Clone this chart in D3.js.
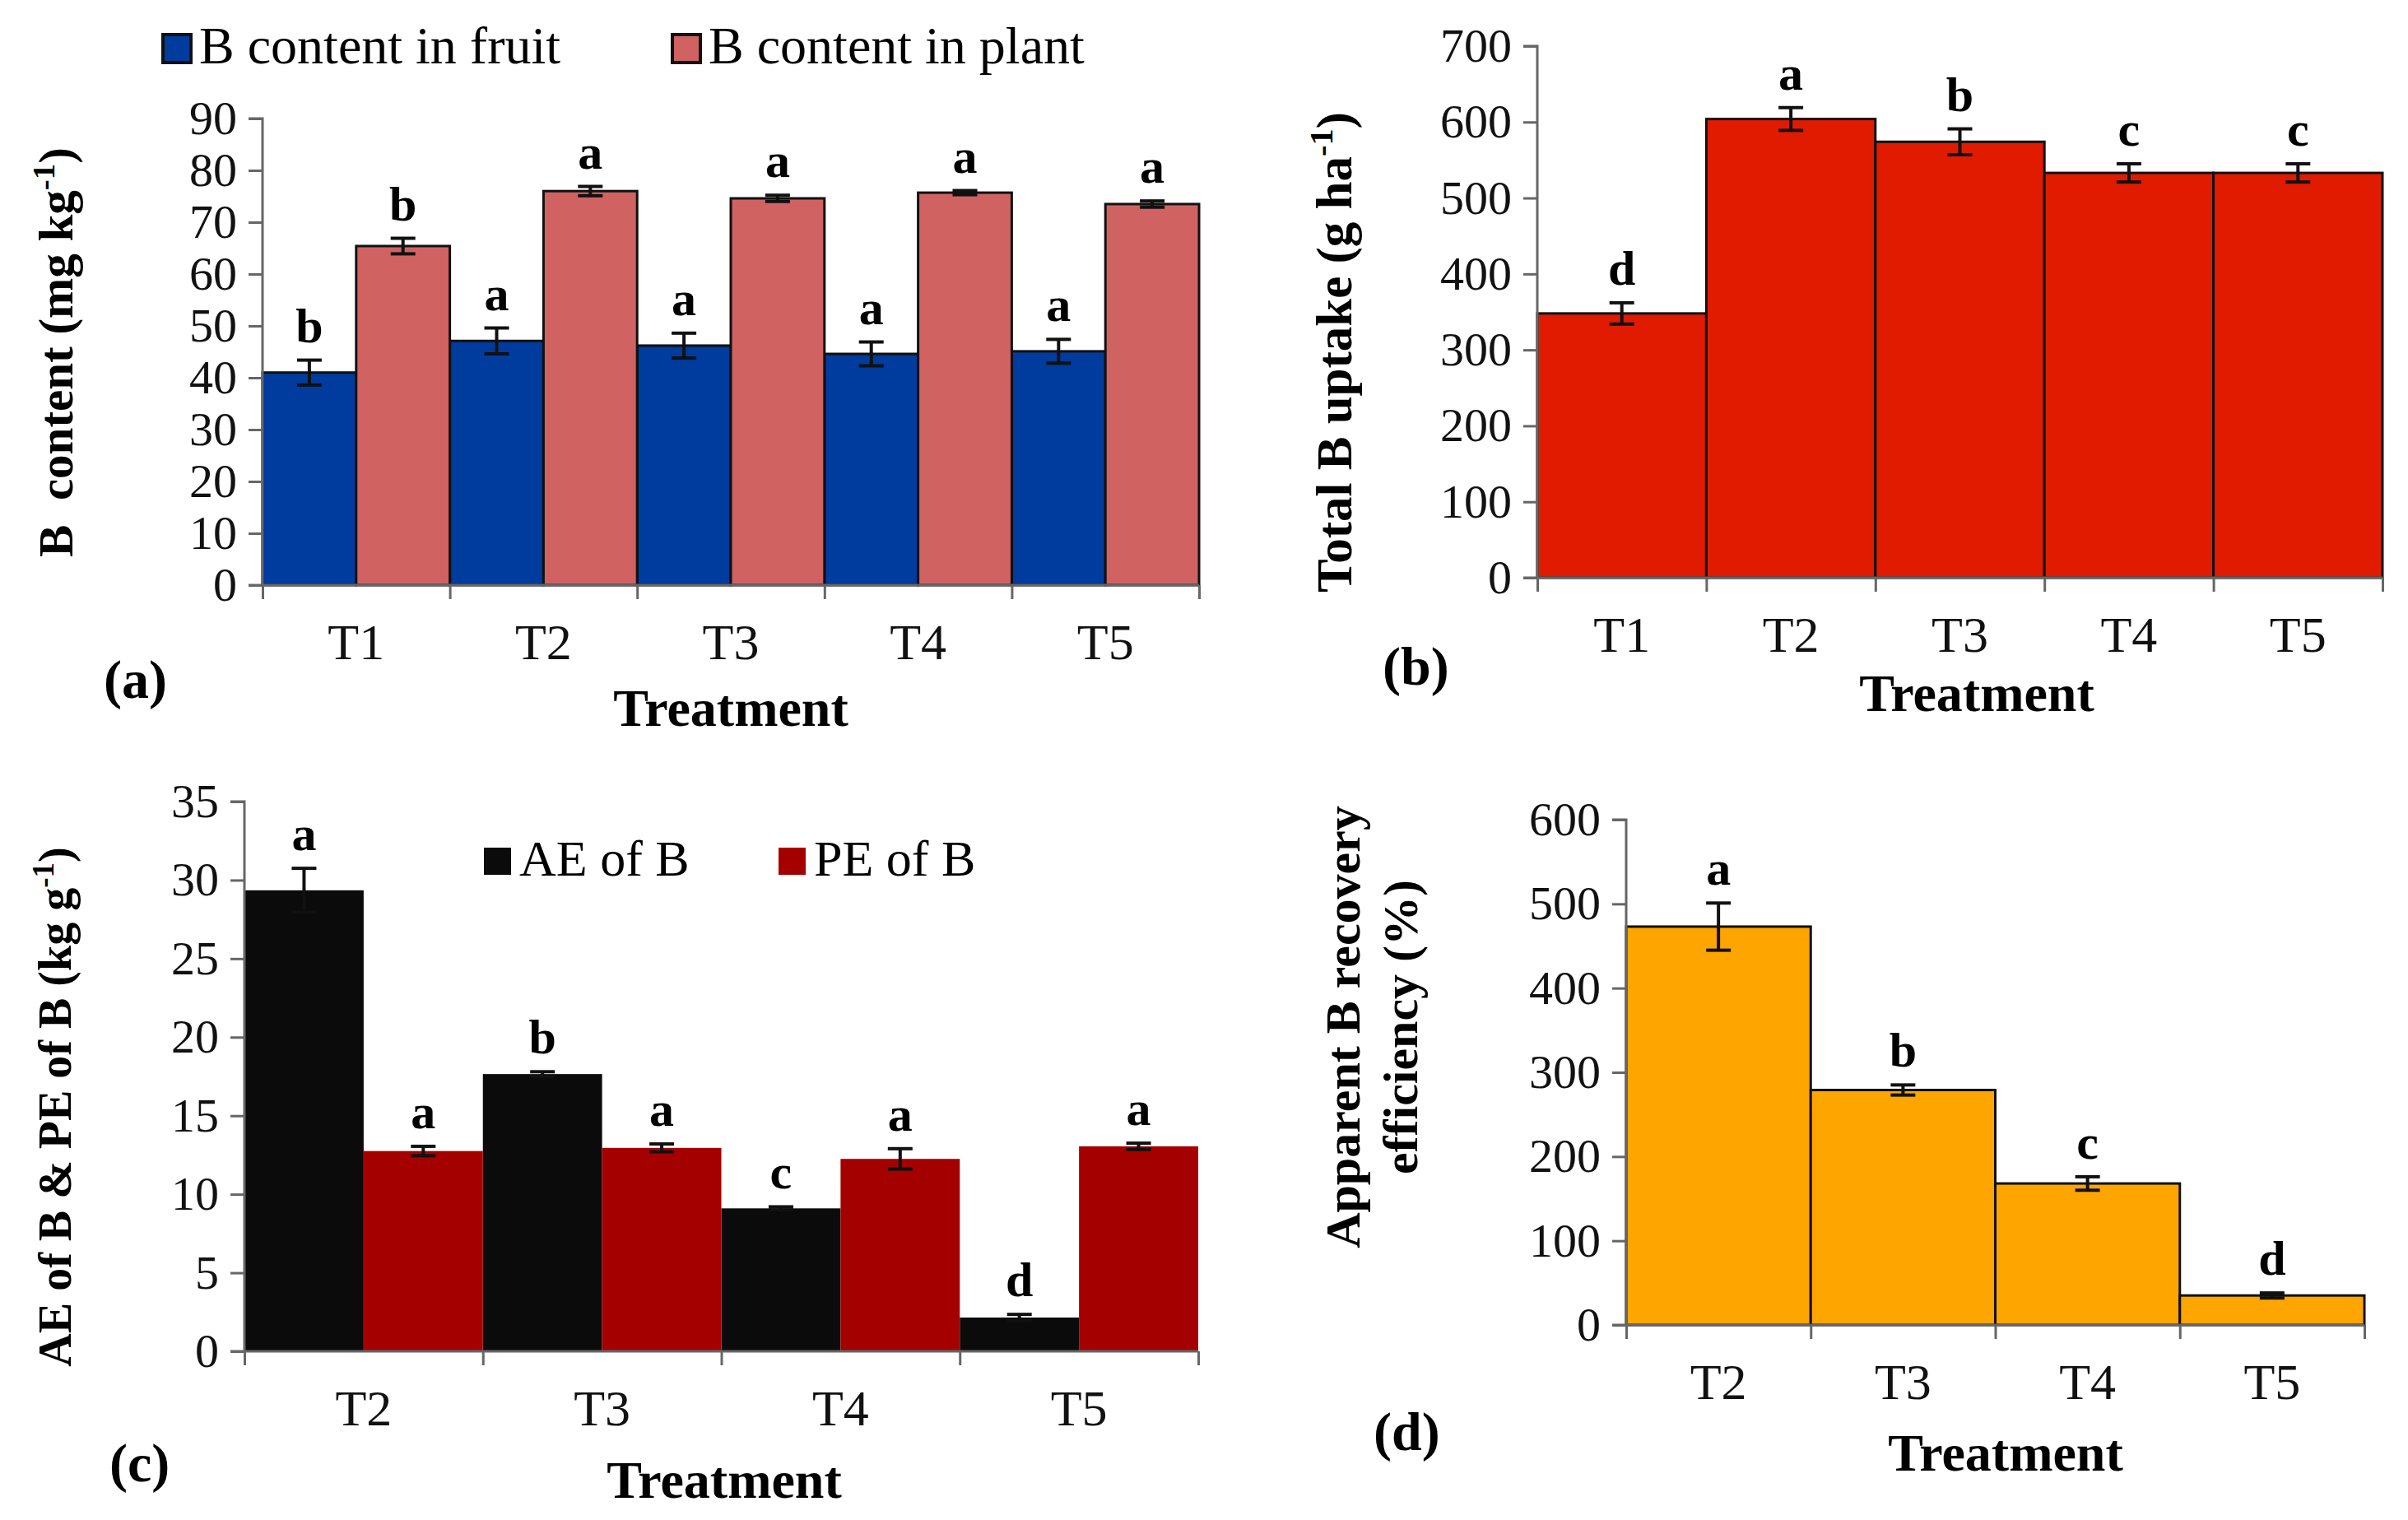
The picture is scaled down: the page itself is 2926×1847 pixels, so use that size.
<!DOCTYPE html>
<html><head><meta charset="utf-8">
<script src="https://cdn.jsdelivr.net/npm/d3@7"></script>
<style>body{margin:0;background:#fff}svg{display:block}svg text{font-family:"Liberation Serif","Times New Roman",serif}</style>
</head><body>
<script>
// ---------- data ----------
const catsAB = ["T1","T2","T3","T4","T5"];
const fruit = [41.0, 47.1, 46.2, 44.6, 45.1];
const fruitErr = [2.4, 2.5, 2.4, 2.3, 2.3];
const fruitLetters = ["b","a","a","a","a"];
const plant = [65.4, 76.0, 74.6, 75.7, 73.5];
const plantErr = [1.5, 0.9, 0.6, 0.4, 0.6];
const plantLetters = ["b","a","a","a","a"];
const ticksA = [0,10,20,30,40,50,60,70,80,90];

const uptake = [348, 604, 574, 533, 533];
const uptakeErr = [14, 15, 17, 12, 12];
const uptakeLetters = ["d","a","b","c","c"];
const ticksB = [0,100,200,300,400,500,600,700];

const catsCD = ["T2","T3","T4","T5"];
const ae = [29.35, 17.65, 9.1, 2.15];
const aeErr = [1.4, 0.15, 0.1, 0.2];
const aeLetters = ["a","b","c","d"];
const pe = [12.75, 12.95, 12.25, 13.05];
const peErr = [0.3, 0.25, 0.65, 0.2];
const peLetters = ["a","a","a","a"];
const ticksC = [0,5,10,15,20,25,30,35];

const recovery = [473, 279, 168, 35];
const recoveryErr = [28, 6, 8, 3];
const recoveryLetters = ["a","b","c","d"];
const ticksD = [0,100,200,300,400,500,600];

// ---------- setup ----------
const W = 2926, H = 1847;
const FONT = "Liberation Serif";
const svg = d3.select("body").append("svg").attr("width", W).attr("height", H)
  .attr("font-family", FONT);

function panel(cfg) {
  const g = svg.append("g").attr("font-family", FONT);
  const y = d3.scaleLinear().domain([cfg.ticks[0], cfg.ticks[cfg.ticks.length-1]]).range([cfg.y0, cfg.y1]);
  const x = d3.scaleBand().domain(cfg.cats).range([cfg.x0, cfg.x1]).padding(0);
  const xb = d3.scaleLinear().domain([0, cfg.cats.length]).range([cfg.x0, cfg.x1]);
  const sub = d3.scaleBand().domain(d3.range(cfg.series.length)).range([0, x.bandwidth()]).padding(0);

  // bars
  cfg.series.forEach((s, si) => {
    g.selectAll(null).data(s.values).enter().append("rect")
      .attr("x", (d, i) => x(cfg.cats[i]) + sub(si))
      .attr("y", d => y(d))
      .attr("width", sub.bandwidth())
      .attr("height", d => y(0) - y(d))
      .attr("fill", s.color)
      .attr("stroke", cfg.stroke ? "#111" : "none")
      .attr("stroke-width", cfg.stroke ? 3 : 0);
  });
  // error bars + letters
  cfg.series.forEach((s, si) => {
    s.values.forEach((v, i) => {
      const cx = x(cfg.cats[i]) + sub(si) + sub.bandwidth() / 2;
      const top = y(v + s.err[i]), bot = y(v - s.err[i]);
      const cap = 15;
      g.append("line").attr("x1", cx).attr("x2", cx).attr("y1", top).attr("y2", bot)
        .attr("stroke", "#111").attr("stroke-width", 4);
      [top, bot].forEach(yy => g.append("line").attr("x1", cx - cap).attr("x2", cx + cap)
        .attr("y1", yy).attr("y2", yy).attr("stroke", "#111").attr("stroke-width", 4));
      g.append("text").attr("x", cx).attr("y", top - 22).attr("text-anchor", "middle")
        .attr("font-weight", "bold").attr("font-size", 60).attr("fill", "#000").text(s.letters[i]);
    });
  });

  // y axis
  const ya = g.append("g").attr("transform", `translate(${cfg.x0},0)`)
    .call(d3.axisLeft(y).tickValues(cfg.ticks).tickSize(17).tickPadding(14).tickFormat(d3.format("d")));
  ya.attr("font-family", FONT).attr("font-size", 58);
  ya.select(".domain").attr("stroke", "#666").attr("stroke-width", 3).attr("d", `M-17,${y(cfg.ticks[cfg.ticks.length-1])}H0V${y(0)}`);
  ya.selectAll(".tick line").attr("stroke", "#666").attr("stroke-width", 3);
  ya.selectAll(".tick text").attr("fill", "#111");

  // x axis (boundary ticks)
  const xa = g.append("g").attr("transform", `translate(0,${cfg.y0})`)
    .call(d3.axisBottom(xb).tickValues(d3.range(cfg.cats.length + 1)).tickSize(17).tickFormat(""));
  xa.select(".domain").attr("stroke", "#666").attr("stroke-width", 3).attr("d", `M${cfg.x0 - 17},0H${cfg.x1}`);
  xa.selectAll(".tick line").attr("stroke", "#666").attr("stroke-width", 3);
  // category labels
  const xl = g.append("g").attr("transform", `translate(0,${cfg.y0})`)
    .call(d3.axisBottom(x).tickSize(0).tickPadding(cfg.labelPad));
  xl.attr("font-family", FONT).attr("font-size", 62);
  xl.select(".domain").remove();
  xl.selectAll(".tick text").attr("fill", "#111");

  // panel letter + axis title
  g.append("text").attr("x", cfg.tagX).attr("y", cfg.tagY).attr("font-weight", "bold")
    .attr("font-size", 66).text(cfg.tag);
  g.append("text").attr("x", cfg.titleX).attr("y", cfg.titleY).attr("text-anchor", "middle")
    .attr("font-weight", "bold").attr("font-size", 64).text("Treatment");

  // y title
  cfg.yTitle.forEach(line => {
    const fs = line.fs || 60;
    const t = g.append("text").attr("transform", `translate(${line.x},${line.y}) rotate(-90)`)
      .attr("text-anchor", "middle").attr("font-weight", "bold").attr("font-size", fs)
      .style("white-space", "pre");
    line.parts.forEach(p => {
      if (p.sup) t.append("tspan").attr("dy", -0.37 * fs).attr("font-size", fs * 0.66).text(p.t);
      else t.append("tspan").attr("dy", p.after ? 0.37 * fs : 0).text(p.t);
    });
  });

  // legend
  if (cfg.legend) cfg.legend.forEach((l, i) => {
    g.append("rect").attr("x", l.x).attr("y", l.y).attr("width", l.s).attr("height", l.s)
      .attr("fill", cfg.series[i].color).attr("stroke", cfg.stroke ? "#111" : "none").attr("stroke-width", 4);
    g.append("text").attr("x", l.x + l.s + 10).attr("y", l.y + l.s + 1).attr("font-size", l.fs)
      .text(cfg.series[i].name);
  });
}

// (a)
panel({
  cats: catsAB, ticks: ticksA, x0: 319, x1: 1457, y0: 711, y1: 144, stroke: true, labelPad: 46,
  series: [
    {name: "B content in fruit", values: fruit, err: fruitErr, letters: fruitLetters, color: "#003b9e"},
    {name: "B content in plant", values: plant, err: plantErr, letters: plantLetters, color: "#d06262"}
  ],
  legend: [{x: 198, y: 42, s: 34, fs: 64}, {x: 817, y: 42, s: 34, fs: 64}],
  tag: "(a)", tagX: 126, tagY: 848, titleX: 888, titleY: 882,
  yTitle: [{x: 88, y: 428, fs: 59, parts: [{t: "B  content (mg kg"}, {t: "-1", sup: true}, {t: ")", after: true}]}]
});
// (b)
panel({
  cats: catsAB, ticks: ticksB, x0: 1868, x1: 2895, y0: 702, y1: 56, stroke: true, labelPad: 46,
  series: [{name: "uptake", values: uptake, err: uptakeErr, letters: uptakeLetters, color: "#e01b00"}],
  tag: "(b)", tagX: 1680, tagY: 832, titleX: 2402, titleY: 864,
  yTitle: [{x: 1642, y: 428, fs: 61, parts: [{t: "Total B uptake (g ha"}, {t: "-1", sup: true}, {t: ")", after: true}]}]
});
// (c)
panel({
  cats: catsCD, ticks: ticksC, x0: 297, x1: 1456, y0: 1642, y1: 974, stroke: false, labelPad: 46,
  series: [
    {name: "AE of B", values: ae, err: aeErr, letters: aeLetters, color: "#0b0b0b"},
    {name: "PE of B", values: pe, err: peErr, letters: peLetters, color: "#a50000"}
  ],
  legend: [{x: 588, y: 1030, s: 33, fs: 62}, {x: 946, y: 1030, s: 33, fs: 62}],
  tag: "(c)", tagX: 133, tagY: 1800, titleX: 880, titleY: 1820,
  yTitle: [{x: 86, y: 1345, fs: 56, parts: [{t: "AE of B & PE of B (kg g"}, {t: "-1", sup: true}, {t: ")", after: true}]}]
});
// (d)
panel({
  cats: catsCD, ticks: ticksD, x0: 1976, x1: 2873, y0: 1610, y1: 996, stroke: true, labelPad: 46,
  series: [{name: "ARE", values: recovery, err: recoveryErr, letters: recoveryLetters, color: "#ffa500"}],
  tag: "(d)", tagX: 1669, tagY: 1762, titleX: 2437, titleY: 1787,
  yTitle: [
    {x: 1652, y: 1248, fs: 60, parts: [{t: "Apparent B recovery"}]},
    {x: 1722, y: 1248, fs: 60, parts: [{t: "efficiency (%)"}]}
  ]
});
svg.selectAll("text").style("font-family", "'Liberation Serif', 'Times New Roman', serif");
</script>
</body></html>
